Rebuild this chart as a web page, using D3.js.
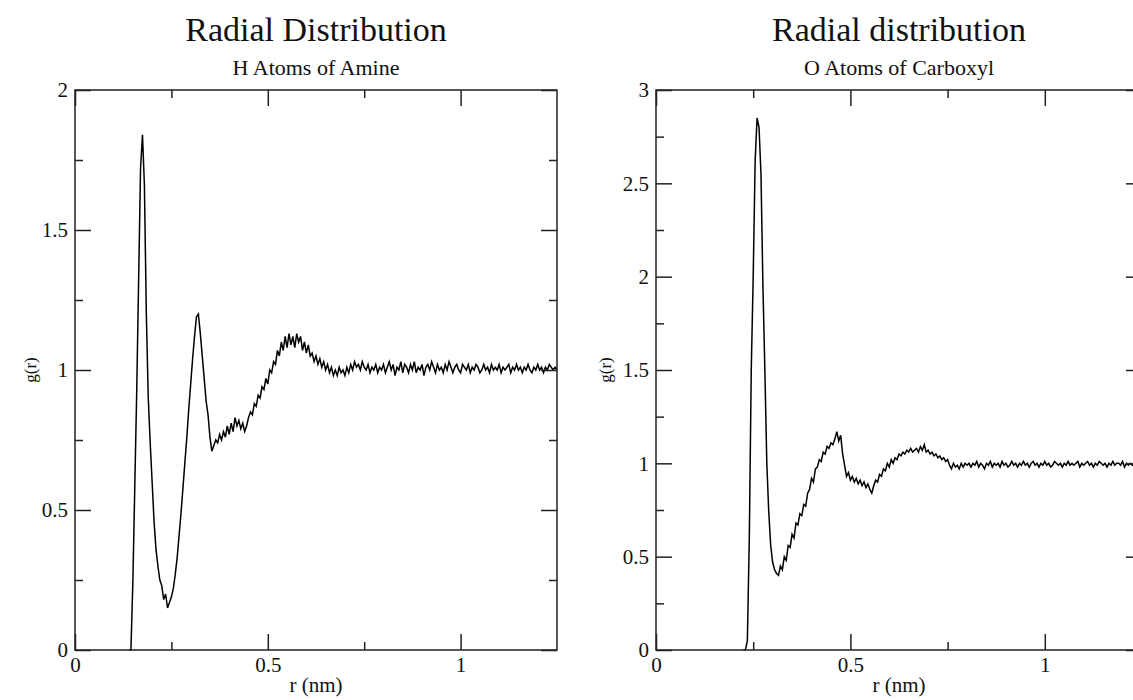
<!DOCTYPE html>
<html>
<head>
<meta charset="utf-8">
<script src="https://cdn.jsdelivr.net/npm/d3@7/dist/d3.min.js"></script>
<style>
body { margin: 0; background: #fff; }
svg text { font-family: "Liberation Serif", "DejaVu Serif", serif; fill: #111; }
</style>
</head>
<body>
<svg></svg>
<script>
var width = 1133;
var height = 700;

// r grid of the g(r) data (nm)
var rStep = 0.005;
var amineStart = 0.14;
var carboxylStart = 0.225;

// g(r) for H atoms of amine
var amineG = [
    0,0,0.24,0.58,0.92,1.32,1.72,1.84,1.66,1.20,
    0.90,0.74,0.60,0.46,0.36,0.30,0.25,0.23,0.18,0.20,
    0.15,0.17,0.19,0.22,0.27,0.33,0.41,0.49,0.58,0.67,
    0.76,0.86,0.95,1.04,1.12,1.19,1.20,1.13,1.05,0.97,
    0.89,0.84,0.76,0.71,0.73,0.75,0.74,0.77,0.75,0.78,
    0.76,0.80,0.77,0.81,0.78,0.83,0.80,0.82,0.79,0.81,
    0.78,0.80,0.83,0.85,0.84,0.88,0.87,0.91,0.90,0.94,
    0.93,0.97,0.95,1.00,0.99,1.03,1.02,1.07,1.05,1.10,
    1.07,1.12,1.08,1.13,1.09,1.12,1.08,1.13,1.10,1.12,
    1.07,1.10,1.06,1.09,1.05,1.06,1.03,1.05,1.02,1.04,
    1.01,1.03,1.00,1.02,0.99,1.01,0.98,1.00,0.98,1.01,
    0.99,1.00,0.98,1.01,0.99,1.02,1.00,1.03,1.01,1.02,
    1.00,1.03,1.01,1.00,1.02,0.99,1.01,1.00,1.02,0.99,
    1.01,
    1.00,1.02,0.99,1.01,1.03,1.00,1.02,0.98,1.01,1.00,
    1.03,0.99,1.02,1.01,0.99,1.02,1.00,1.03,0.99,1.01,
    1.00,1.02,0.98,1.01,1.02,1.00,1.03,1.01,0.99,1.02,
    1.00,1.01,0.99,1.02,1.00,1.03,1.01,0.99,1.01,1.02,
    1.00,0.99,1.02,1.01,1.00,1.02,0.99,1.01,1.00,1.02,
    1.01,0.99,1.00,1.02,1.00,1.01,0.99,1.02,1.00,1.01,
    1.00,1.02,0.99,1.01,1.00,1.01,1.02,0.99,1.01,1.00,
    1.02,1.00,1.01,0.99,1.01,1.00,1.02,1.00,0.99,1.01,
    1.00,1.02,1.00,1.01,0.99,1.01,1.00,1.02,1.01,1.00,
    1.01,1.00
];

// g(r) for O atoms of carboxyl
var carboxylG = [
    0,0,0.05,0.60,1.50,2.00,2.62,2.85,2.80,2.55,
    1.95,1.50,1.00,0.74,0.56,0.47,0.43,0.41,0.40,0.45,
    0.43,0.50,0.48,0.56,0.55,0.62,0.60,0.68,0.67,0.73,
    0.72,0.78,0.77,0.84,0.86,0.92,0.90,0.97,0.98,1.02,
    1.01,1.06,1.05,1.09,1.08,1.11,1.10,1.13,1.17,1.12,
    1.15,1.05,0.99,0.93,0.95,0.91,0.93,0.90,0.92,0.89,
    0.91,0.88,0.90,0.87,0.89,0.86,0.84,0.88,0.91,0.90,
    0.94,0.93,0.97,0.96,1.00,0.98,1.02,1.00,1.03,1.02,
    1.05,1.04,1.06,1.05,1.07,1.06,1.08,1.06,1.07,1.08,
    1.06,1.09,1.07,1.10,1.06,1.07,1.05,1.06,1.04,1.05,
    1.03,1.04,1.02,1.03,1.01,1.02,0.99,0.97,1.00,0.98,
    0.99,0.97,1.00,0.98,1.00,
    0.99,1.00,0.98,1.00,0.99,1.01,0.98,1.00,0.99,0.97,
    1.00,0.99,1.01,0.98,1.00,0.99,1.00,0.98,1.01,0.99,
    1.00,0.98,0.99,1.01,0.99,1.00,0.98,1.00,0.99,1.01,
    0.99,1.00,0.98,1.00,1.01,0.99,1.00,0.98,1.00,0.99,
    1.01,0.99,1.00,0.98,0.99,1.01,1.00,0.99,1.00,0.98,
    1.00,0.99,1.01,0.99,1.00,0.99,1.00,1.01,0.98,1.00,
    0.99,1.00,1.01,0.99,1.00,0.98,1.00,0.99,1.01,1.00,
    0.99,1.00,0.98,1.00,0.99,1.01,0.99,1.00,1.00,0.99,
    1.01,0.98,1.00,0.99,1.00,0.99,1.01,0.99,1.00,0.99,
    1.00
];

// tick values
var xMajor = [0, 0.5, 1];
var xMinor = [0.25, 0.75];
var amineYMajor = [0, 0.5, 1, 1.5, 2];
var amineYMinor = [0.25, 0.75, 1.25, 1.75];
var carbYMajor = [0, 0.5, 1, 1.5, 2, 2.5, 3];
var carbYMinor = [0.25, 0.75, 1.25, 1.75, 2.25, 2.75];

var svg = d3.select("svg")
    .attr("width", width)
    .attr("height", height);

function toPoints(start, values) {
    return values.map(function(g, i) {
        return {r: start + i * rStep, g: g};
    });
}

//panel settings
var panels = [
    {title: "Radial Distribution", sub: "H Atoms of Amine",
     left: 75, right: 557, top: 90, bottom: 650, labelGap: 39,
     yMax: 2, yMajor: amineYMajor, yMinor: amineYMinor,
     data: toPoints(amineStart, amineG)},
    {title: "Radial distribution", sub: "O Atoms of Carboxyl",
     left: 656, right: 1142, top: 90, bottom: 650, labelGap: 45,
     yMax: 3, yMajor: carbYMajor, yMinor: carbYMinor,
     data: toPoints(carboxylStart, carboxylG)}
];

panels.forEach(function(p) {
    var x = d3.scaleLinear().domain([0, 1.25]).range([p.left, p.right]);
    var y = d3.scaleLinear().domain([0, p.yMax]).range([p.bottom, p.top]);
    var cx = (p.left + p.right) / 2;
    var g = svg.append("g");

    // the curve
    var line = d3.line()
        .x(function(d) { return x(d.r); })
        .y(function(d) { return y(d.g); });
    g.append("path")
        .datum(p.data)
        .attr("fill", "none")
        .attr("stroke", "#000")
        .attr("stroke-width", 1.5)
        .attr("d", line);

    // ticks on all four sides, pointing in
    function addAxis(axis, tx, ty, labels) {
        var a = g.append("g")
            .attr("transform", "translate(" + tx + "," + ty + ")")
            .call(axis);
        a.select(".domain").remove();
        a.selectAll("line").attr("stroke", "#222").attr("stroke-width", 1.5);
        a.selectAll("text").style("font-size", "21px").attr("fill", "#111");
        if (!labels) a.selectAll("text").remove();
    }
    var fmt = d3.format("");
    addAxis(d3.axisBottom(x).tickValues(xMajor).tickSize(-16).tickPadding(7).tickFormat(fmt), 0, p.bottom, true);
    addAxis(d3.axisBottom(x).tickValues(xMinor).tickSize(-8), 0, p.bottom, false);
    addAxis(d3.axisTop(x).tickValues(xMajor).tickSize(-16), 0, p.top, false);
    addAxis(d3.axisTop(x).tickValues(xMinor).tickSize(-8), 0, p.top, false);
    addAxis(d3.axisLeft(y).tickValues(p.yMajor).tickSize(-16).tickPadding(7).tickFormat(fmt), p.left, 0, true);
    addAxis(d3.axisLeft(y).tickValues(p.yMinor).tickSize(-8), p.left, 0, false);
    addAxis(d3.axisRight(y).tickValues(p.yMajor).tickSize(-16), p.right, 0, false);
    addAxis(d3.axisRight(y).tickValues(p.yMinor).tickSize(-8), p.right, 0, false);

    // frame
    g.append("rect")
        .attr("x", p.left)
        .attr("y", p.top)
        .attr("width", p.right - p.left)
        .attr("height", p.bottom - p.top)
        .attr("fill", "none")
        .attr("stroke", "#222")
        .attr("stroke-width", 1.5);

    // titles
    g.append("text")
        .attr("x", cx).attr("y", 41)
        .attr("text-anchor", "middle")
        .style("font-size", "34px")
        .text(p.title);
    g.append("text")
        .attr("x", cx).attr("y", 75)
        .attr("text-anchor", "middle")
        .style("font-size", "22px")
        .text(p.sub);

    // axis labels
    g.append("text")
        .attr("x", cx).attr("y", 692)
        .attr("text-anchor", "middle")
        .style("font-size", "21px")
        .text("r (nm)");
    g.append("text")
        .attr("transform", "translate(" + (p.left - p.labelGap) + "," + ((p.top + p.bottom) / 2) + ") rotate(-90)")
        .attr("text-anchor", "middle")
        .style("font-size", "17px")
        .text("g(r)");
});
</script>
</body>
</html>
